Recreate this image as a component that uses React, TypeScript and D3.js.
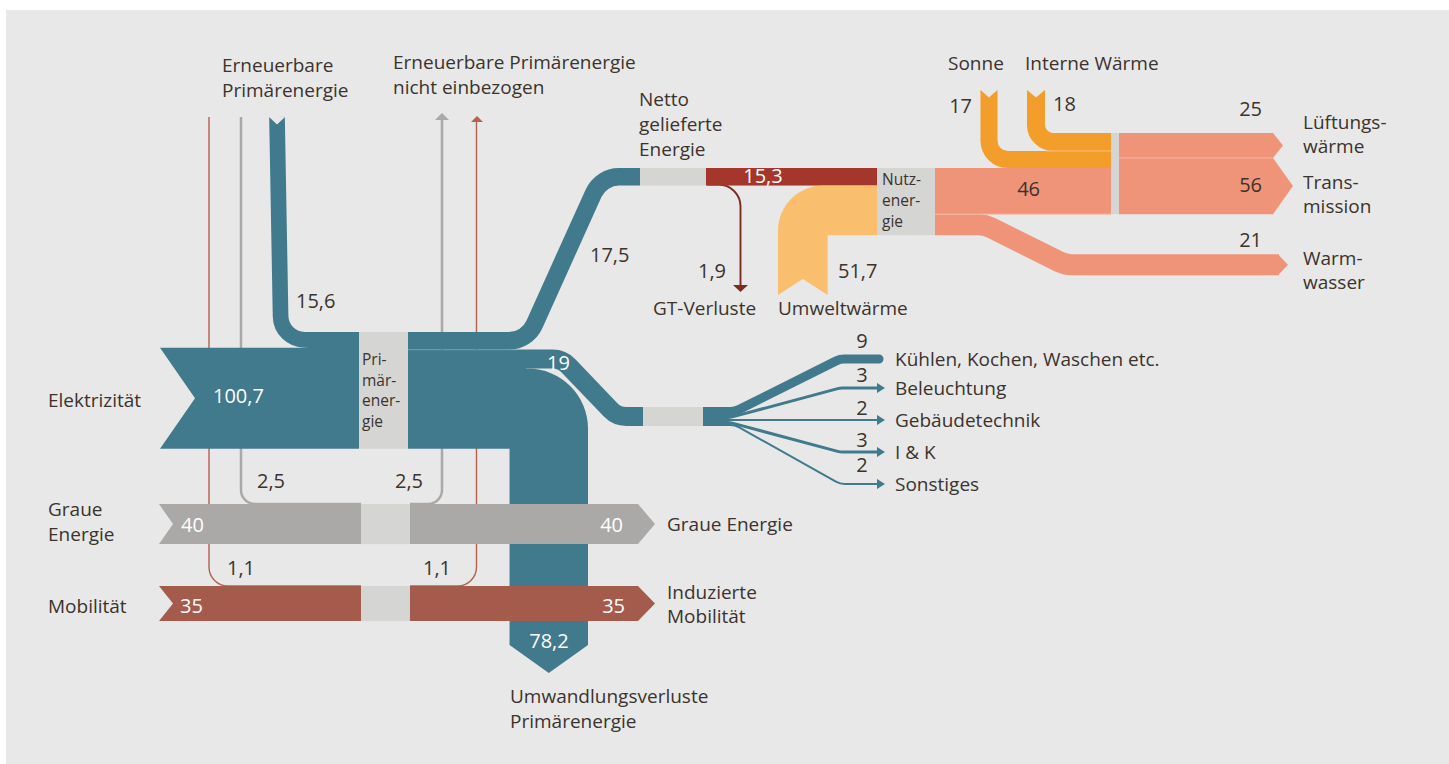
import React from "react";
import * as d3 from "d3";

// ---------- data ----------
const primaryLabels = ["Elektrizität", "Graue Energie", "Mobilität"];
const primaryValues = [100.7, 40, 35];
const renewableLabels = [["Erneuerbare", "Primärenergie"], ["Erneuerbare Primärenergie", "nicht einbezogen"]];
const renewableValues = [15.6, 2.5, 1.1]; // into Elektrizität, Graue Energie, Mobilität
const elecOutLabels = [["Netto", "gelieferte", "Energie"], ["Umwandlungsverluste", "Primärenergie"]];
const elecOutValues = [17.5, 19, 78.2]; // netto, Strom-Anwendungen, Umwandlungsverluste
const inducedLabels = [["Graue Energie"], ["Induzierte", "Mobilität"]];
const nettoLabels = ["Nutz-", "ener-", "gie"];
const nettoValues = [15.3, 1.9]; // to Nutzenergie, GT-Verluste
const lossLabel = "GT-Verluste";
const ambientLabel = "Umweltwärme";
const ambientValues = [51.7];
const nutzOutValues = [46, 21];
const gainLabels = ["Sonne", "Interne Wärme"];
const gainValues = [17, 18];
const heatLabels = [["Lüftungs-", "wärme"], ["Trans-", "mission"], ["Warm-", "wasser"]];
const heatValues = [25, 56, 21];
const applianceLabels = ["Kühlen, Kochen, Waschen etc.", "Beleuchtung", "Gebäudetechnik", "I & K", "Sonstiges"];
const applianceValues = [9, 3, 2, 3, 2];
const primaryBoxLabels = ["Pri-", "mär-", "ener-", "gie"];

// ---------- style ----------
const COL = {
  bg: "#e8e8e8",
  blue: "#417a8c",
  box: "#d5d5d3",
  gray: "#aaa9a7",
  mob: "#a55b4b",
  red: "#a5362b",
  darkRed: "#7b2d1d",
  thinRed: "#b4614f",
  salmon: "#f09479",
  orange: "#f39d2a",
  lightOrange: "#fabf6e",
  text: "#3b332d",
};
const FONT = "'Open Sans', 'Noto Sans', sans-serif";

const fmt = (v: number) => String(v).replace(".", ",");
const w = d3.scaleLinear().domain([0, 100]).range([0, 100.3]);

function bend(pts: number[][], r: number) {
  const p = d3.path();
  p.moveTo(pts[0][0], pts[0][1]);
  for (let i = 1; i < pts.length - 1; i++) {
    p.arcTo(pts[i][0], pts[i][1], pts[i + 1][0], pts[i + 1][1], r);
  }
  const l = pts[pts.length - 1];
  p.lineTo(l[0], l[1]);
  return p.toString();
}
function poly(pts: number[][]) {
  const p = d3.path();
  pts.forEach((q, i) => (i ? p.lineTo(q[0], q[1]) : p.moveTo(q[0], q[1])));
  p.closePath();
  return p.toString();
}

function T({ x, y, children, size = 19, fill = COL.text, anchor = "start" }: any) {
  return (
    <text x={x} y={y} fontSize={size} fill={fill} textAnchor={anchor} fontFamily={FONT}>
      {children}
    </text>
  );
}
function Lines({ x, y, lines, step = 25, size = 19, fill = COL.text, anchor = "start" }: any) {
  return (
    <>
      {lines.map((s: string, i: number) => (
        <T key={i} x={x} y={y + i * step} size={size} fill={fill} anchor={anchor}>{s}</T>
      ))}
    </>
  );
}

export default function App() {
  // ----- primary block -----
  const pbX0 = 359, pbX1 = 408, pbTop = 332;
  const renH = w(renewableValues[0]);
  const renCornerR = 24, renX = 281;
  const elTop = pbTop + renH;
  const elBot = elTop + w(primaryValues[0]);
  const nettoH = w(elecOutValues[0]);
  const stromH = w(elecOutValues[1]);
  const nettoY = pbTop + nettoH / 2;
  const stromY = pbTop + nettoH + stromH / 2;
  const lossTop = pbTop + nettoH + stromH;
  const lossX1 = 588, lossX0 = lossX1 - w(elecOutValues[2]);
  const lossR = 60, lossArrowY = 645, lossTip = 673;

  const lossPath = (() => {
    const p = d3.path();
    p.moveTo(pbX1, lossTop);
    p.lineTo(lossX1 - lossR, lossTop);
    p.arcTo(lossX1, lossTop, lossX1, lossTop + lossR, lossR);
    p.lineTo(lossX1, lossArrowY);
    p.lineTo((lossX0 + lossX1) / 2, lossTip);
    p.lineTo(lossX0, lossArrowY);
    p.lineTo(lossX0, elBot);
    p.lineTo(pbX1, elBot);
    p.closePath();
    return p.toString();
  })();

  // ----- grey & mobility bands -----
  const grTop = 504, grH = w(primaryValues[1]);
  const moTop = 586, moH = w(primaryValues[2]);
  const bx0 = 361, bx1 = 410, bandL = 159, bandR = 638, tipR = 655;

  // ----- netto / nutz -----
  const nTop = 168;
  const nBoxX0 = 640, nBoxX1 = 706, nutzX0 = 877, nutzX1 = 935;
  const nutzH = w(nettoValues[0] + ambientValues[0]);
  const ambH = nutzH - nettoH;
  const ambTop = nTop + nettoH, ambBot = nTop + nutzH;
  const ambXL = 778, ambXR = ambXL + ambH, ambR = 45;
  const ambPath = (() => {
    const p = d3.path();
    p.moveTo(ambXL, 295);
    p.lineTo(ambXL, ambTop + ambR);
    p.arcTo(ambXL, ambTop, ambXL + ambR, ambTop, ambR);
    p.lineTo(nutzX0, ambTop);
    p.lineTo(nutzX0, ambBot);
    p.lineTo(ambXR, ambBot);
    p.lineTo(ambXR, 295);
    p.lineTo((ambXL + ambXR) / 2, 279);
    p.closePath();
    return p.toString();
  })();

  // ----- heat -----
  const h46 = w(nutzOutValues[0]), h21 = w(nutzOutValues[1]);
  const divX = 1111, divW = 8;
  const sonH = w(gainValues[0]), intH = w(gainValues[1]);
  const sonY = nTop - sonH / 2, intY = nTop - sonH - intH / 2;
  const heatTop = nTop - sonH - intH;
  const h25 = w(heatValues[0]), h56 = w(heatValues[1]);
  const hx0 = divX + divW, hRectEnd = 1273;
  const wwY0 = nTop + h46 + h21 / 2, wwY1 = wwY0 + 40;

  // ----- electricity fan -----
  const fanTop = 407, fanX0 = 643, fanX1 = 703;
  const fanTargetY = [359, 388, 420, 452, 484];
  const fanNumY = [348, 382, 415, 447, 472];
  const fanKneeX = [735, 730, 0, 730, 735];
  let acc = fanTop;
  const fanStart = applianceValues.map((v) => {
    const y = acc + w(v) / 2;
    acc += w(v);
    return y;
  });

  return (
    <svg width={1449} height={764} style={{ position: "absolute", left: 0, top: 0 }}>
      <rect x={0} y={0} width={1449} height={764} fill="#ffffff" />
      <rect x={6} y={10} width={1443} height={754} fill={COL.bg} />

      {/* thin renewable lines (behind bands) */}
      <path d={bend([[209, 117], [209, moTop], [bx0, moTop]], 19)} fill="none" stroke={COL.thinRed} strokeWidth={w(renewableValues[2]) + 0.3} />
      <path d={bend([[bx1, moTop], [476.5, moTop], [476.5, 121]], 19)} fill="none" stroke={COL.thinRed} strokeWidth={w(renewableValues[2]) + 0.3} />
      <path d={poly([[471, 122], [477, 116], [483, 122]])} fill={COL.thinRed} />
      <path d={bend([[241, 117], [241, grTop], [bx0, grTop]], 14)} fill="none" stroke={COL.gray} strokeWidth={w(renewableValues[1])} />
      <path d={bend([[bx1, grTop], [442, grTop], [442, 119]], 14)} fill="none" stroke={COL.gray} strokeWidth={w(renewableValues[1])} />
      <path d={poly([[435, 120], [442, 113], [449, 120]])} fill={COL.gray} />

      {/* seam fillers */}
      <rect x={renX + renCornerR + 2} y={elTop - 2} width={pbX0 - renX - renCornerR - 2} height={4} fill={COL.blue} />
      <rect x={pbX1} y={pbTop + nettoH + 2} width={118} height={lossTop - pbTop - nettoH} fill={COL.blue} />

      {/* renewable primary 15,6 */}
      <path d={bend([[277, 117], [renX, pbTop + renH / 2], [pbX0, pbTop + renH / 2]], renCornerR)} fill="none" stroke={COL.blue} strokeWidth={renH} />
      <path d={poly([[268.5, 116.5], [285.5, 116.5], [277, 124.5]])} fill={COL.bg} />

      {/* Elektrizität */}
      <path d={poly([[160, elTop], [pbX0, elTop], [pbX0, elBot], [160, elBot], [195, (elTop + elBot) / 2]])} fill={COL.blue} />

      {/* losses 78,2 */}
      <path d={lossPath} fill={COL.blue} />
      {/* Strom 19 */}
      <path d={bend([[pbX1 - 1, stromY], [562, stromY], [617, fanTop + stromH / 2], [fanX0, fanTop + stromH / 2]], 22)} fill="none" stroke={COL.blue} strokeWidth={stromH} />
      {/* Netto 17,5 */}
      <path d={bend([[pbX1 - 1, nettoY], [527, nettoY], [601, nTop + nettoH / 2], [nBoxX0, nTop + nettoH / 2]], 28)} fill="none" stroke={COL.blue} strokeWidth={nettoH} />
      <line x1={pbX1} x2={518} y1={pbTop + nettoH + 0.5} y2={pbTop + nettoH + 0.5} stroke="#ffffff" strokeOpacity={0.1} />

      {/* primary box */}
      <rect x={pbX0} y={pbTop} width={pbX1 - pbX0} height={elBot - pbTop} fill={COL.box} />

      {/* Graue Energie */}
      <path d={poly([[bandL, grTop], [bx0, grTop], [bx0, grTop + grH], [bandL, grTop + grH], [173, grTop + grH / 2]])} fill={COL.gray} />
      <path d={poly([[bx1, grTop], [bandR, grTop], [tipR, grTop + grH / 2], [bandR, grTop + grH], [bx1, grTop + grH]])} fill={COL.gray} />
      <rect x={bx0} y={grTop} width={bx1 - bx0} height={grH} fill={COL.box} />

      {/* Mobilität */}
      <path d={poly([[bandL, moTop], [bx0, moTop], [bx0, moTop + moH], [bandL, moTop + moH], [173, moTop + moH / 2]])} fill={COL.mob} />
      <path d={poly([[bx1, moTop], [bandR, moTop], [tipR, moTop + moH / 2], [bandR, moTop + moH], [bx1, moTop + moH]])} fill={COL.mob} />
      <rect x={bx0} y={moTop} width={bx1 - bx0} height={moH} fill={COL.box} />

      {/* electricity fan */}
      {applianceValues.map((v, i) => {
        const ty = fanTargetY[i];
        const pts = fanKneeX[i]
          ? [[fanX1 - 2, fanStart[i]], [fanKneeX[i], fanStart[i]], [840, ty], [i === 0 ? 879 : 878, ty]]
          : [[fanX1 - 2, fanStart[i]], [878, ty]];
        return (
          <g key={i}>
            <path d={bend(pts, 18)} fill="none" stroke={COL.blue} strokeWidth={w(v)} strokeLinecap={i === 0 ? "round" : "butt"} />
            {i > 0 && <path d={poly([[877, ty - 5], [885, ty], [877, ty + 5]])} fill={COL.blue} />}
          </g>
        );
      })}
      <rect x={fanX0} y={fanTop} width={fanX1 - fanX0} height={stromH} fill={COL.box} />

      {/* netto box + red band */}
      <rect x={nBoxX0} y={nTop} width={nBoxX1 - nBoxX0} height={nettoH} fill={COL.box} />
      <path d={bend([[707, nTop + nettoH - 1], [740.5, nTop + nettoH - 1], [740.5, 286]], 22)} fill="none" stroke={COL.darkRed} strokeWidth={Math.max(w(nettoValues[1]), 1.6)} />
      <path d={poly([[733, 285], [740.5, 292], [748, 285]])} fill={COL.darkRed} />
      <rect x={nBoxX1} y={nTop} width={nutzX0 - nBoxX1} height={nettoH} fill={COL.red} />

      {/* Umweltwärme */}
      <path d={ambPath} fill={COL.lightOrange} />

      {/* Nutzenergie box */}
      <rect x={nutzX0} y={nTop} width={nutzX1 - nutzX0} height={nutzH} fill={COL.box} />

      {/* gains */}
      <path d={bend([[989, 90], [989, sonY], [divX, sonY]], 19)} fill="none" stroke={COL.orange} strokeWidth={sonH} />
      <path d={bend([[1036, 90], [1036, intY], [divX, intY]], 17)} fill="none" stroke={COL.orange} strokeWidth={intH} />
      <path d={poly([[989 - sonH / 2 - 0.5, 89.5], [989 + sonH / 2 + 0.5, 89.5], [989, 97.5]])} fill={COL.bg} />
      <path d={poly([[1036 - intH / 2 - 0.5, 89.5], [1036 + intH / 2 + 0.5, 89.5], [1036, 97.5]])} fill={COL.bg} />
      <line x1={1046} x2={divX} y1={nTop - sonH} y2={nTop - sonH} stroke="#f8c07a" strokeWidth={1} />

      {/* 46 and 21 */}
      <rect x={nutzX1} y={nTop} width={divX - nutzX1} height={h46} fill={COL.salmon} />
      <path d={bend([[nutzX1, wwY0], [985, wwY0], [1065, wwY1], [1279, wwY1]], 30)} fill="none" stroke={COL.salmon} strokeWidth={h21} />
      <path d={poly([[1278, wwY1 - h21 / 2], [1288, wwY1], [1278, wwY1 + h21 / 2]])} fill={COL.salmon} />
      <line x1={nutzX1} x2={divX} y1={nTop + h46} y2={nTop + h46} stroke="#f6b6a1" strokeWidth={1} />

      {/* divider + heat outputs */}
      <rect x={divX} y={heatTop} width={divW} height={nTop + h46 - heatTop} fill={COL.box} />
      <path d={poly([[hx0, heatTop], [hRectEnd, heatTop], [1283, heatTop + h25 / 2], [hRectEnd, heatTop + h25], [hx0, heatTop + h25]])} fill={COL.salmon} />
      <path d={poly([[hx0, heatTop + h25], [hRectEnd, heatTop + h25], [1293, heatTop + h25 + h56 / 2], [hRectEnd, heatTop + h25 + h56], [hx0, heatTop + h25 + h56]])} fill={COL.salmon} />
      <line x1={hx0} x2={hRectEnd} y1={heatTop + h25} y2={heatTop + h25} stroke="#f6b6a1" strokeWidth={1} />

      {/* ---------- texts ---------- */}
      <Lines x={222} y={72} lines={renewableLabels[0]} />
      <Lines x={393} y={69} lines={renewableLabels[1]} />
      <Lines x={639} y={106} lines={elecOutLabels[0]} />
      <T x={948} y={70}>{gainLabels[0]}</T>
      <T x={1025} y={70}>{gainLabels[1]}</T>
      <T x={972} y={113} size={20} anchor="end">{fmt(gainValues[0])}</T>
      <T x={1053} y={111} size={20}>{fmt(gainValues[1])}</T>

      <T x={296} y={308} size={20}>{fmt(renewableValues[0])}</T>
      <T x={590} y={262} size={20}>{fmt(elecOutValues[0])}</T>
      <T x={763} y={183} size={20} fill="#ffffff" anchor="middle">{fmt(nettoValues[0])}</T>
      <T x={726} y={278} size={20} anchor="end">{fmt(nettoValues[1])}</T>
      <T x={653} y={315}>{lossLabel}</T>
      <T x={778} y={315}>{ambientLabel}</T>
      <T x={838} y={278} size={20}>{fmt(ambientValues[0])}</T>
      <Lines x={882} y={185} lines={nettoLabels} step={21} size={15.5} />

      <T x={1040} y={196} size={20} anchor="end">{fmt(nutzOutValues[0])}</T>
      <T x={1262} y={116} size={20} anchor="end">{fmt(heatValues[0])}</T>
      <T x={1262} y={192} size={20} anchor="end">{fmt(heatValues[1])}</T>
      <T x={1262} y={247} size={20} anchor="end">{fmt(heatValues[2])}</T>
      <Lines x={1303} y={129} lines={heatLabels[0]} step={24} />
      <Lines x={1303} y={189} lines={heatLabels[1]} step={24} />
      <Lines x={1303} y={265} lines={heatLabels[2]} step={24} />

      <T x={48} y={407}>{primaryLabels[0]}</T>
      <Lines x={48} y={516} lines={["Graue", "Energie"]} />
      <T x={48} y={613}>{primaryLabels[2]}</T>
      <T x={213} y={403} size={20} fill="#ffffff">{fmt(primaryValues[0])}</T>
      <T x={181} y={532} size={20} fill="#ffffff">{fmt(primaryValues[1])}</T>
      <T x={623} y={532} size={20} fill="#ffffff" anchor="end">{fmt(primaryValues[1])}</T>
      <T x={180} y={613} size={20} fill="#ffffff">{fmt(primaryValues[2])}</T>
      <T x={625} y={613} size={20} fill="#ffffff" anchor="end">{fmt(primaryValues[2])}</T>
      <Lines x={362} y={365} lines={primaryBoxLabels} step={20.5} size={15.5} />

      <T x={257} y={488} size={20}>{fmt(renewableValues[1])}</T>
      <T x={395} y={488} size={20}>{fmt(renewableValues[1])}</T>
      <T x={227} y={575} size={20}>{fmt(renewableValues[2])}</T>
      <T x={423} y={575} size={20}>{fmt(renewableValues[2])}</T>

      <T x={547} y={370} size={20} fill="#ffffff">{fmt(elecOutValues[1])}</T>
      <T x={549} y={648} size={20} fill="#ffffff" anchor="middle">{fmt(elecOutValues[2])}</T>
      <Lines x={510} y={703} lines={elecOutLabels[1]} />
      <Lines x={667} y={531} lines={inducedLabels[0]} />
      <Lines x={667} y={599} lines={inducedLabels[1]} step={24} />

      {applianceValues.map((v, i) => (
        <g key={"l" + i}>
          <T x={862} y={fanNumY[i]} size={20} anchor="middle">{fmt(v)}</T>
          <T x={895} y={fanTargetY[i] + 7}>{applianceLabels[i]}</T>
        </g>
      ))}
    </svg>
  );
}
